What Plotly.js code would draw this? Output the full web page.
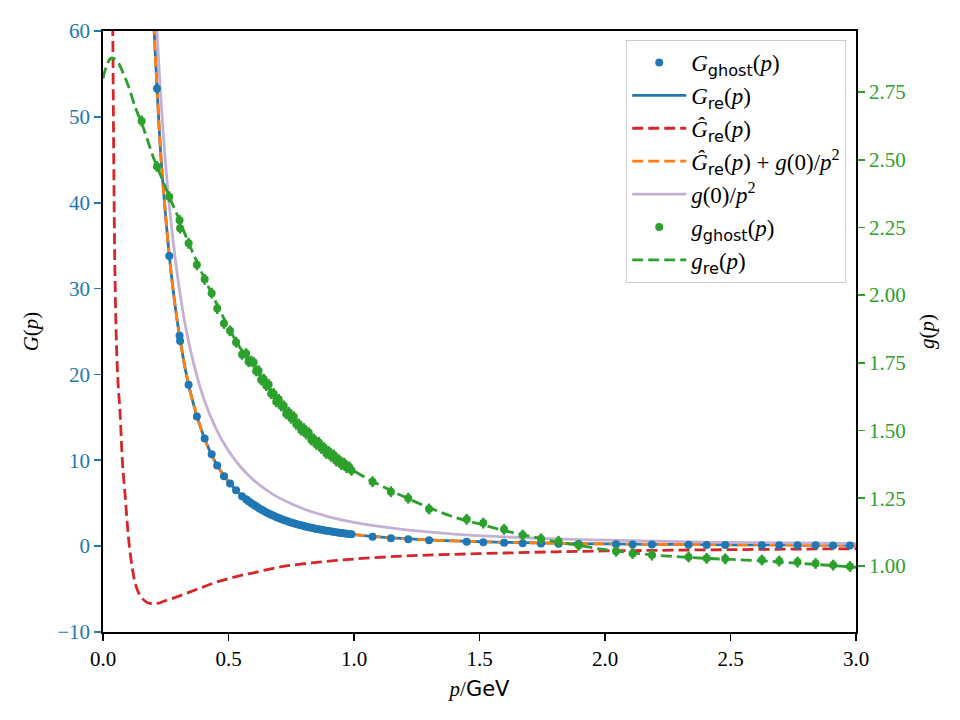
<!DOCTYPE html>
<html>
<head>
<meta charset="utf-8">
<script src="https://cdn.plot.ly/plotly-3.0.1.min.js"></script>
<style>html,body{margin:0;padding:0;background:#fff;}#chart{width:960px;height:720px;}</style>
</head>
<body>
<div id="chart"></div>
<script>
// ---------- data ----------
// lattice momenta shared by G_ghost and g_ghost
const pData = [0.154,0.215,0.264,0.305,0.307,0.341,0.374,0.405,0.433,0.455,0.482,0.506,0.530,0.554,
  0.570,0.580,0.590,0.600,0.610,0.620,0.630,0.640,0.650,0.660,0.670,0.680,0.690,0.700,0.710,0.720,
  0.730,0.740,0.750,0.760,0.770,0.780,0.790,0.800,0.810,0.820,0.830,0.840,0.850,0.860,0.870,0.880,
  0.890,0.900,0.910,0.920,0.930,0.940,0.950,0.960,0.970,0.980,0.990,
  1.074,1.147,1.216,1.299,1.449,1.515,1.598,1.672,1.745,1.815,1.895,2.044,2.110,2.187,2.333,2.405,
  2.479,2.625,2.694,2.767,2.839,2.909,2.976];
const Gghost = [null,53.3,33.8,24.5,23.9,18.8,15.1,12.55,10.7,9.4,8.15,7.3,6.5,5.8,
  5.47,5.24,5.03,4.83,4.64,4.45,4.28,4.11,3.95,3.80,3.66,3.53,3.40,3.28,3.16,3.05,
  2.95,2.85,2.76,2.67,2.58,2.50,2.42,2.34,2.27,2.20,2.14,2.07,2.01,1.96,1.90,1.85,
  1.80,1.75,1.70,1.66,1.61,1.57,1.53,1.49,1.45,1.42,1.38,
  1.10,0.92,0.80,0.68,0.50,0.45,0.40,0.35,0.31,0.28,0.25,0.21,0.19,0.18,0.15,0.14,
  0.13,0.11,0.10,0.09,0.09,0.08,0.08];
const gghost = [2.643,2.475,2.363,2.276,2.247,2.191,2.112,2.058,2.007,1.950,1.895,1.868,1.826,1.781,
  1.784,1.754,1.756,1.752,1.720,1.721,1.687,1.690,1.666,1.670,1.636,1.636,1.606,1.615,1.591,1.591,
  1.562,1.567,1.545,1.551,1.523,1.524,1.501,1.507,1.487,1.492,1.465,1.469,1.449,1.456,1.434,1.437,
  1.415,1.422,1.404,1.409,1.387,1.392,1.374,1.380,1.363,1.366,1.353,
  1.311,1.274,1.250,1.210,1.172,1.158,1.135,1.114,1.100,1.091,1.076,1.054,1.046,1.040,1.033,1.028,
  1.026,1.022,1.018,1.014,1.009,1.003,0.998];

// G_re(p) and Ĝ_re(p)+g(0)/p² (coincide)
const pGre = [0.190,0.197,0.204,0.215,0.230,0.250,0.264,0.280,0.300,0.330,0.360,0.400,0.450,0.500,0.550,
  0.600,0.650,0.700,0.750,0.800,0.900,1.000,1.100,1.200,1.300,1.400,1.500,1.600,1.800,2.000,2.200,
  2.400,2.600,2.800,3.000];
const Gre = [72,65,60,53.5,45.7,38.3,33.9,29.7,25.4,20.3,16.6,12.9,9.65,7.52,5.95,
  4.83,3.95,3.28,2.76,2.34,1.75,1.35,1.07,0.87,0.72,0.61,0.52,0.45,0.34,0.265,0.215,
  0.178,0.15,0.128,0.111];
const GhatPlusG0 = [72,65,60,53.5,45.7,38.3,33.9,29.7,25.4,20.3,16.6,12.9,9.65,7.52,5.95,
  4.83,3.95,3.28,2.76,2.34,1.75,1.35,1.07,0.87,0.72,0.61,0.52,0.45,0.34,0.265,0.215,
  0.178,0.15,0.128,0.111];

// Ĝ_re(p)
const pGhat = [0.036,0.039,0.042,0.045,0.048,0.054,0.060,0.068,0.078,0.088,0.097,0.105,0.118,0.130,
  0.145,0.160,0.175,0.190,0.205,0.220,0.240,0.270,0.300,0.350,0.400,0.450,0.500,0.550,0.600,0.700,
  0.800,0.900,1.000,1.200,1.400,1.600,1.800,2.000,2.200,2.500,2.800,3.000];
const Ghat = [70,60,48,38,31,23.2,19,15.5,9.5,6.0,2.5,0,-2.8,-4.5,
  -5.6,-6.2,-6.55,-6.68,-6.7,-6.65,-6.45,-6.15,-5.85,-5.3,-4.75,-4.2,-3.78,-3.4,-3.1,-2.45,
  -2.05,-1.75,-1.5,-1.15,-0.95,-0.8,-0.66,-0.56,-0.49,-0.41,-0.34,-0.3];

// g(0)/p²
const pG0 = [0.205,0.215,0.230,0.250,0.270,0.300,0.330,0.360,0.400,0.450,0.500,0.550,0.600,0.650,
  0.700,0.800,0.900,1.000,1.200,1.400,1.600,1.800,2.000,2.300,2.600,3.000];
const G0overP2 = [65.9,59.9,52.4,44.3,38.0,30.8,25.4,21.4,17.3,13.7,11.1,9.16,7.69,6.56,
  5.65,4.33,3.42,2.77,1.92,1.41,1.08,0.855,0.69,0.52,0.41,0.31];

// g_re(p)
const pgre = [0,0.01,0.02,0.03,0.036,0.045,0.06,0.08,0.10,0.13,0.154,0.18,0.20,0.215,0.24,0.264,
  0.30,0.34,0.38,0.42,0.46,0.50,0.55,0.60,0.65,0.70,0.75,0.80,0.85,0.90,0.95,1.00,1.10,1.20,1.30,
  1.40,1.50,1.60,1.70,1.80,1.90,2.00,2.20,2.40,2.60,2.80,3.00];
const gre = [2.80,2.835,2.86,2.873,2.876,2.873,2.86,2.82,2.775,2.69,2.635,2.565,2.51,2.475,2.418,2.363,
  2.287,2.195,2.11,2.03,1.955,1.88,1.80,1.74,1.67,1.605,1.55,1.50,1.455,1.415,1.38,1.35,1.30,1.255,1.215,
  1.18,1.155,1.13,1.11,1.09,1.075,1.06,1.04,1.028,1.02,1.008,0.995];

// ticks
const xTicks = [0,0.5,1,1.5,2,2.5,3];
const xTickText = ['0.0','0.5','1.0','1.5','2.0','2.5','3.0'];
const yTicks = [-10,0,10,20,30,40,50,60];
const y2Ticks = [1.00,1.25,1.50,1.75,2.00,2.25,2.50,2.75];
const y2TickText = ['1.00','1.25','1.50','1.75','2.00','2.25','2.50','2.75'];

// ---------- chart ----------
const BLUE='#1f77b4', RED='#d62728', ORANGE='#ff7f0e', PURPLE='#c5b0d5', GREEN='#2ca02c';
const DASH='11px,5px';
const SERIF='Liberation Serif';
const SANS='DejaVu Sans';
const sub = s => '<sub><span style="font-family:\''+SANS+'\'">'+s+'</span></sub>';

const traces = [
  {x:pGre, y:Gre, mode:'lines', line:{color:BLUE, width:2.8, shape:'spline'},
   name:'<i>G</i>'+sub('re')+'(<i>p</i>)', legendgroup:'b', legendrank:2},
  {x:pGhat, y:Ghat, mode:'lines', line:{color:RED, width:2.8, dash:DASH, shape:'spline'},
   name:'<i>Ĝ</i>'+sub('re')+'(<i>p</i>)', legendgroup:'c', legendrank:3},
  {x:pGre, y:GhatPlusG0, mode:'lines', line:{color:ORANGE, width:2.8, dash:DASH, shape:'spline'},
   name:'<i>Ĝ</i>'+sub('re')+'(<i>p</i>) + <i>g</i>(0)/<i>p</i><sup>2</sup>', legendgroup:'d', legendrank:4},
  {x:pG0, y:G0overP2, mode:'lines', line:{color:PURPLE, width:2.8, shape:'spline'},
   name:'<i>g</i>(0)/<i>p</i><sup>2</sup>', legendgroup:'e', legendrank:5},
  {x:pData, y:Gghost, mode:'markers', marker:{color:BLUE, size:8},
   error_y:{type:'percent', value:1.2, color:BLUE, thickness:2.5, width:0},
   name:'<i>G</i>'+sub('ghost')+'(<i>p</i>)', legendgroup:'a', legendrank:1},
  {x:pData, y:gghost, yaxis:'y2', mode:'markers', marker:{color:GREEN, size:8},
   error_y:{type:'constant', value:0.02, color:GREEN, thickness:2.5, width:0},
   name:'<i>g</i>'+sub('ghost')+'(<i>p</i>)', legendgroup:'f', legendrank:6},
  {x:pgre, y:gre, yaxis:'y2', mode:'lines', line:{color:GREEN, width:2.8, dash:DASH, shape:'spline'},
   name:'<i>g</i>'+sub('re')+'(<i>p</i>)', legendgroup:'g', legendrank:7}
];

const layout = {
  width:960, height:720,
  margin:{l:103, r:104, t:31, b:88, pad:0},
  paper_bgcolor:'#ffffff', plot_bgcolor:'#ffffff',
  font:{family:SERIF, size:21, color:'#000'},
  showlegend:true,
  xaxis:{range:[0,3], tickvals:xTicks, ticktext:xTickText, ticks:'outside', ticklen:7, tickwidth:1.7,
    tickcolor:'#000', showline:true, linecolor:'#000', linewidth:1.8, mirror:true,
    showgrid:false, zeroline:false, tickfont:{family:SERIF, size:21},
    title:{text:'<i>p</i>/<span style="font-family:\''+SANS+'\'">GeV</span>', standoff:11, font:{family:SERIF, size:21}}},
  yaxis:{range:[-10,60], tickvals:yTicks, ticks:'outside', ticklen:7, tickwidth:1.7, tickcolor:BLUE,
    tickfont:{color:BLUE, family:SERIF, size:21}, showline:true, linecolor:'#000', linewidth:1.8, mirror:true,
    showgrid:false, zeroline:false,
    title:{text:'<i>G</i>(<i>p</i>)', standoff:13, font:{family:SERIF, size:21}}},
  yaxis2:{range:[0.756,2.975], overlaying:'y', side:'right', tickvals:y2Ticks, ticktext:y2TickText,
    ticks:'outside', ticklen:7, tickwidth:1.7, tickcolor:GREEN, tickfont:{color:GREEN, family:SERIF, size:21},
    showline:true, linecolor:'#000', linewidth:1.8, showgrid:false, zeroline:false,
    title:{text:'<i>g</i>(<i>p</i>)', standoff:14, font:{family:SERIF, size:21}}},
  legend:{x:0.987, xanchor:'right', y:0.985, yanchor:'top', bgcolor:'rgba(255,255,255,0.85)',
    bordercolor:'#cccccc', borderwidth:1, font:{family:SERIF, size:23}, traceorder:'grouped', tracegroupgap:0,
    itemwidth:54}
};

Plotly.newPlot('chart', traces, layout, {displayModeBar:false, staticPlot:true});
</script>
</body>
</html>
